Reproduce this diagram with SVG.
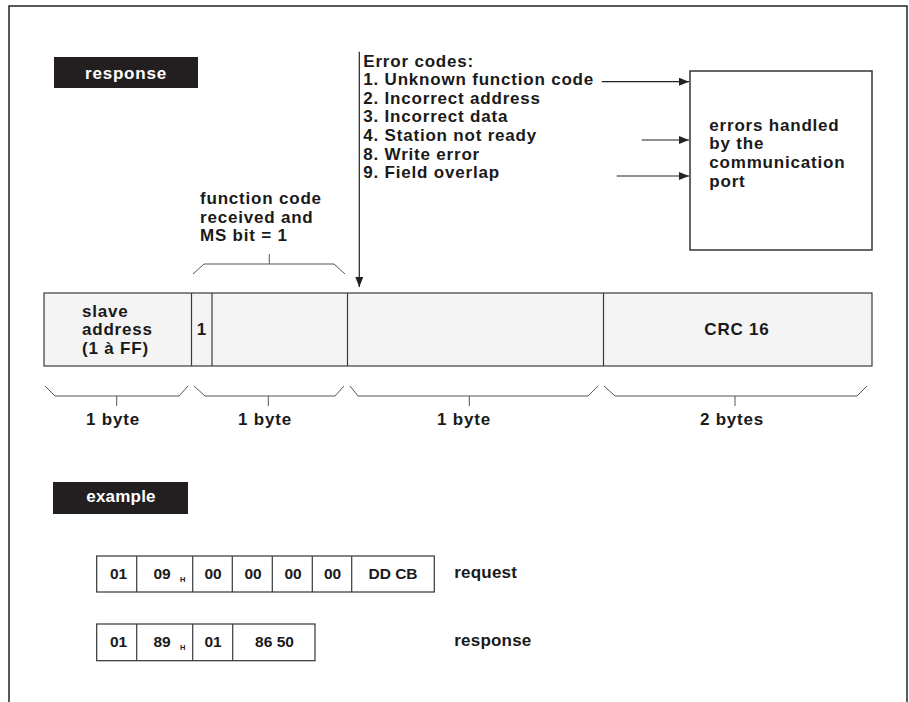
<svg xmlns="http://www.w3.org/2000/svg" width="909" height="702" viewBox="0 0 909 702">
  <style>
    .t { font-family: "Liberation Sans", Arial, Helvetica, sans-serif; font-weight: bold; font-size: 17px; letter-spacing: 0.8px; fill: #1a1a1a; }
    .plain { letter-spacing: 0.2px; }
    .w { fill: #ffffff; }
    .mid { text-anchor: middle; }
    .d { font-family: "Liberation Sans", Arial, Helvetica, sans-serif; font-weight: bold; font-size: 15.5px; fill: #1a1a1a; }
    .h { font-family: "Liberation Sans", Arial, Helvetica, sans-serif; font-weight: bold; font-size: 7.5px; fill: #1a1a1a; }
    .tag { fill: #231f20; }
    .cell { fill: #f3f4f3; stroke: #3a3a3a; stroke-width: 1.2; }
    .div { stroke: #3a3a3a; stroke-width: 1.2; }
    .box { fill: #ffffff; stroke: #333333; stroke-width: 1.5; }
    .tab { fill: #ffffff; stroke: #333333; stroke-width: 1.2; }
    .brace { fill: none; stroke: #555555; stroke-width: 1; }
    .wire { stroke: #222222; stroke-width: 1.2; fill: none; }
  </style>
  <defs>
    <marker id="head" viewBox="0 0 10 8" refX="10" refY="4" markerWidth="10" markerHeight="8" markerUnits="userSpaceOnUse" orient="auto">
      <path d="M0,0 L10,4 L0,8 Z" fill="#222222"/>
    </marker>
  </defs>

  <!-- page frame, open at the bottom -->
  <path d="M9,702 V6 H907 V702" fill="none" stroke="#222222" stroke-width="1.5"/>

  <!-- section tags -->
  <g id="tag-response">
    <rect class="tag" x="54" y="57" width="144" height="31"/>
    <text class="t w mid" x="126" y="79">response</text>
  </g>
  <g id="tag-example">
    <rect class="tag" x="53" y="482" width="135" height="32"/>
    <text class="t w mid plain" x="121" y="502">example</text>
  </g>

  <!-- error code list -->
  <g id="error-codes">
    <text class="t" x="363.3" y="66.5">Error codes:</text>
    <text class="t" x="363.3" y="85.1">1. Unknown function code</text>
    <text class="t" x="363.3" y="103.7">2. Incorrect address</text>
    <text class="t" x="363.3" y="122.3">3. Incorrect data</text>
    <text class="t" x="363.3" y="140.9">4. Station not ready</text>
    <text class="t" x="363.3" y="159.5">8. Write error</text>
    <text class="t" x="363.3" y="178.1">9. Field overlap</text>
  </g>

  <!-- communication port box -->
  <g id="port-box">
    <rect class="box" x="690" y="71" width="182" height="179"/>
    <text class="t" x="709.3" y="130.7">errors handled</text>
    <text class="t" x="709.3" y="149.3">by the</text>
    <text class="t" x="709.3" y="167.9">communication</text>
    <text class="t" x="709.3" y="186.5">port</text>
  </g>

  <!-- function code note -->
  <g id="function-note">
    <text class="t" x="200" y="204">function code</text>
    <text class="t" x="200" y="222.6">received and</text>
    <text class="t" x="200" y="241.2">MS bit = 1</text>
    <polyline class="brace" points="193,274 204,264 334,264 345,274"/>
    <line class="brace" x1="269.3" y1="264" x2="269.3" y2="254"/>
  </g>

  <!-- response frame -->
  <g id="frame">
    <rect class="cell" x="44" y="293" width="828" height="73"/>
    <line class="div" x1="191.5" y1="293" x2="191.5" y2="366"/>
    <line class="div" x1="212" y1="293" x2="212" y2="366"/>
    <line class="div" x1="347.5" y1="293" x2="347.5" y2="366"/>
    <line class="div" x1="603.5" y1="293" x2="603.5" y2="366"/>
    <text class="t" x="82" y="316.5">slave</text>
    <text class="t" x="82" y="335">address</text>
    <text class="t" x="82" y="353.5">(1 à FF)</text>
    <text class="t mid" x="202" y="335">1</text>
    <text class="t mid" x="737" y="335">CRC 16</text>
  </g>

  <!-- byte counts -->
  <g id="byte-counts">
    <polyline class="brace" points="45,386 55,396 179,396 188,386"/>
    <line class="brace" x1="116.7" y1="396" x2="116.7" y2="406"/>
    <polyline class="brace" points="194,386 205,396 335,396 344,386"/>
    <line class="brace" x1="268.3" y1="396" x2="268.3" y2="406"/>
    <polyline class="brace" points="350,386 358,396 588,396 598,386"/>
    <line class="brace" x1="469.3" y1="396" x2="469.3" y2="406"/>
    <polyline class="brace" points="604,386 615,396 857,396 867,386"/>
    <line class="brace" x1="735" y1="396" x2="735" y2="406"/>
    <text class="t mid" x="113" y="425">1 byte</text>
    <text class="t mid" x="265" y="425">1 byte</text>
    <text class="t mid" x="464" y="425">1 byte</text>
    <text class="t mid" x="732" y="425">2 bytes</text>
  </g>

  <!-- example request -->
  <g id="example-request">
    <rect class="tab" x="96.7" y="556" width="337.6" height="36"/>
    <line class="div" x1="136.7" y1="556" x2="136.7" y2="592"/>
    <line class="div" x1="192.7" y1="556" x2="192.7" y2="592"/>
    <line class="div" x1="232.3" y1="556" x2="232.3" y2="592"/>
    <line class="div" x1="272.3" y1="556" x2="272.3" y2="592"/>
    <line class="div" x1="312.3" y1="556" x2="312.3" y2="592"/>
    <line class="div" x1="351.7" y1="556" x2="351.7" y2="592"/>
    <text class="d mid" x="118.5" y="578.5">01</text>
    <text class="d" x="153.5" y="578.5">09</text>
    <text class="h" x="180" y="582">H</text>
    <text class="d mid" x="213" y="578.5">00</text>
    <text class="d mid" x="253" y="578.5">00</text>
    <text class="d mid" x="293" y="578.5">00</text>
    <text class="d mid" x="332.5" y="578.5">00</text>
    <text class="d mid" x="393" y="578.5">DD CB</text>
    <text class="t plain" x="454.3" y="578">request</text>
  </g>

  <!-- example response -->
  <g id="example-response">
    <rect class="tab" x="96.7" y="624" width="218.3" height="36.7"/>
    <line class="div" x1="136.7" y1="624" x2="136.7" y2="660.7"/>
    <line class="div" x1="192.7" y1="624" x2="192.7" y2="660.7"/>
    <line class="div" x1="232.7" y1="624" x2="232.7" y2="660.7"/>
    <text class="d mid" x="118.5" y="646.5">01</text>
    <text class="d" x="153.5" y="646.5">89</text>
    <text class="h" x="180" y="650">H</text>
    <text class="d mid" x="213" y="646.5">01</text>
    <text class="d mid" x="274.5" y="646.5">86 50</text>
    <text class="t plain" x="454.3" y="646">response</text>
  </g>

  <!-- arrows -->
  <g id="connectors">
    <line class="wire" x1="359.3" y1="51.7" x2="359.3" y2="287" marker-end="url(#head)"/>
    <line class="wire" x1="601.7" y1="81.7" x2="689" y2="81.7" marker-end="url(#head)"/>
    <line class="wire" x1="641.7" y1="140" x2="689" y2="140" marker-end="url(#head)"/>
    <line class="wire" x1="616.7" y1="176" x2="689" y2="176" marker-end="url(#head)"/>
  </g>
</svg>
